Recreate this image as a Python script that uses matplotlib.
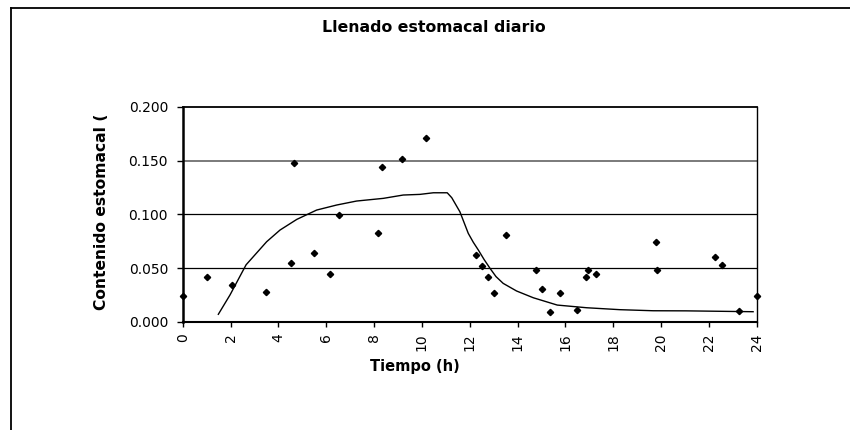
import matplotlib
matplotlib.use("Agg")
import matplotlib.pyplot as plt
from matplotlib.lines import Line2D

# Observed data (diamonds)
obs_t = [0.0, 1.0, 2.06, 3.5, 4.51, 4.67, 5.5, 6.17, 6.52, 8.17, 8.33, 9.18, 10.19,
         12.26, 12.51, 12.75, 13.01, 13.52, 14.76, 15.02, 15.34, 15.76, 16.5, 16.85,
         16.93, 17.28, 19.77, 19.82, 22.27, 22.53, 23.27, 24.0]
obs_y = [0.0236, 0.0413, 0.0345, 0.028, 0.0544, 0.148, 0.0643, 0.0441, 0.0996, 0.0826,
         0.1443, 0.152, 0.1707, 0.0621, 0.0519, 0.0419, 0.027, 0.0807, 0.0478, 0.0301,
         0.0087, 0.0264, 0.0106, 0.0413, 0.0478, 0.0441, 0.0745, 0.0478, 0.060, 0.0525,
         0.010, 0.0236]

# Model curve (line)
curve_t = [1.49, 1.98, 2.65, 3.51, 4.07, 4.77, 5.6, 6.44, 7.27, 8.39, 9.22, 9.92, 10.48,
           11.06, 11.25, 11.59, 11.94, 12.15, 12.36, 12.6, 12.85, 13.1, 13.4, 13.96,
           14.66, 15.66, 16.89, 18.28, 19.67, 21.06, 23.85]
curve_y = [0.0069, 0.025, 0.053, 0.0745, 0.0854, 0.0953, 0.104, 0.1087, 0.1124, 0.1149,
           0.118, 0.1186, 0.1201, 0.1201, 0.1155, 0.1024, 0.0823, 0.074, 0.0668, 0.058,
           0.0497, 0.042, 0.0357, 0.0286, 0.0223, 0.0155, 0.013, 0.0112, 0.0102, 0.0101,
           0.0093]

x_ticks = list(range(0, 25, 2))
y_ticks = [0.0, 0.05, 0.10, 0.15, 0.20]
y_tick_labels = ["0.000", "0.050", "0.100", "0.150", "0.200"]

title = "Llenado estomacal diario"
xlabel = "Tiempo (h)"
ylabel = "Contenido estomacal ("

fig = plt.figure(figsize=(8.5, 4.3), dpi=100)
fig.patch.set_facecolor("white")
ax = fig.add_axes([182.7 / 850, 1 - 321.7 / 430, (756.7 - 182.7) / 850, (321.7 - 107) / 430])

# gridlines
for yv in [0.05, 0.10]:
    ax.axhline(yv, color="black", lw=0.9, zorder=1)
ax.axhline(0.15, color="#707070", lw=1.3, zorder=1)

ax.plot(curve_t, curve_y, color="black", lw=1.0, zorder=3)
ax.plot(obs_t, obs_y, linestyle="none", marker="D", markersize=3.2,
        color="black", zorder=4, clip_on=False)

ax.set_xlim(0, 24)
ax.set_ylim(0, 0.2)
ax.set_xticks(x_ticks)
ax.set_xticklabels([str(v) for v in x_ticks], rotation=90,
                   fontfamily="DejaVu Sans", fontsize=10)
ax.set_yticks(y_ticks)
ax.set_yticklabels(y_tick_labels, fontfamily="DejaVu Sans", fontsize=10)
ax.tick_params(axis="x", direction="out", length=3.5, width=1, pad=5)
ax.tick_params(axis="y", direction="out", length=4.5, width=1, pad=6)

ax.spines["left"].set_linewidth(1.8)
ax.spines["bottom"].set_linewidth(1.5)
ax.spines["top"].set_linewidth(1.3)
ax.spines["right"].set_linewidth(1.0)
for s in ax.spines.values():
    s.set_color("black")
    s.set_zorder(5)

fig.text(434 / 850, 1 - 28 / 430, title, ha="center", va="center",
         fontsize=11.3, fontweight="bold", fontfamily="DejaVu Sans")
fig.text(415 / 850, 1 - 367 / 430, xlabel, ha="center", va="center",
         fontsize=10.5, fontweight="bold", fontfamily="DejaVu Sans")
fig.text(102 / 850, 1 - 212 / 430, ylabel, ha="center", va="center",
         rotation=90, fontsize=11.2, fontweight="bold", fontfamily="DejaVu Sans")

# outer chart frame (partly cropped)
fig.add_artist(Line2D([10.5 / 850, 1.0], [1 - 7.5 / 430, 1 - 7.5 / 430],
                      transform=fig.transFigure, color="black", lw=1.3))
fig.add_artist(Line2D([10.5 / 850, 10.5 / 850], [1 - 7.5 / 430, 0.0],
                      transform=fig.transFigure, color="black", lw=1.3))

fig.savefig("out.png", dpi=100, facecolor="white")
